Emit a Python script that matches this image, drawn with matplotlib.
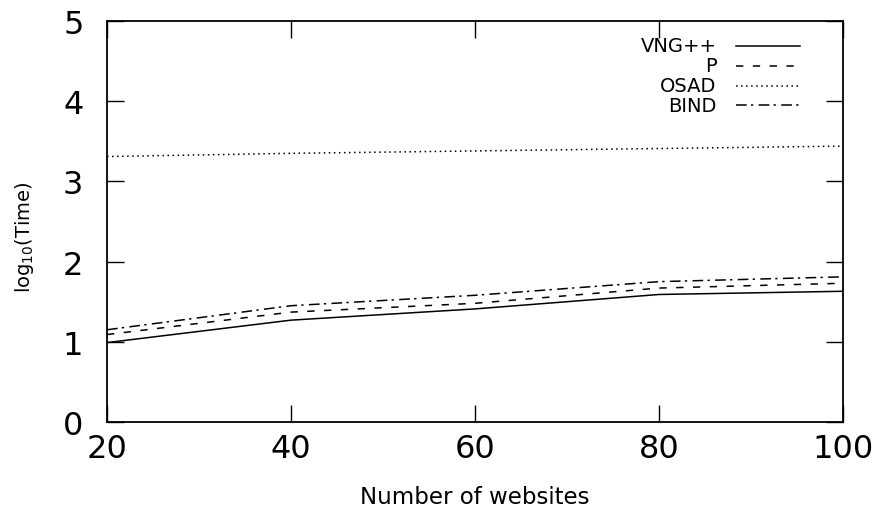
import matplotlib
matplotlib.use("Agg")
import matplotlib.pyplot as plt
from matplotlib.lines import Line2D

websites = [20, 40, 60, 80, 100]
vng = [0.99, 1.27, 1.41, 1.59, 1.63]
p_vals = [1.09, 1.37, 1.48, 1.67, 1.73]
osad = [3.31, 3.35, 3.38, 3.41, 3.44]
bind = [1.15, 1.45, 1.58, 1.75, 1.81]
labels = ["VNG++", "P", "OSAD", "BIND"]

fig = plt.figure(figsize=(8.83, 5.10), dpi=100)
ax = fig.add_axes([107/883, 87/510, 736/883, 401/510])

styles = [
    dict(linestyle="-"),
    dict(linestyle=(0, (4.8, 6.2))),
    dict(linestyle=(0, (1.0, 2.3))),
    dict(linestyle=(0, (7.0, 2.8, 1.5, 3.5))),
]
series = [vng, p_vals, osad, bind]
for vals, st in zip(series, styles):
    ax.plot(websites, vals, color="black", lw=1.1, **st)

ax.set_xlim(20, 100)
ax.set_ylim(0, 5)
ax.set_xticks(websites)
ax.set_yticks([0, 1, 2, 3, 4, 5])
ax.tick_params(direction="in", length=12, width=1.0, top=True, right=True,
               labelsize=23, colors="black")
ax.tick_params(axis="x", pad=8)
ax.tick_params(axis="y", pad=17)
for s in ax.spines.values():
    s.set_linewidth(1.3)

ax.set_xlabel("Number of websites", fontsize=16.5)
ax.xaxis.set_label_coords(0.5, -0.158)
ax.set_ylabel(r"log$_{10}$(Time)", fontsize=14)
ax.yaxis.set_label_coords(-0.097, 0.464)

# legend (gnuplot style: right-aligned text, sample on right)
ys = [0.9384, 0.8885, 0.8387, 0.7905]
for lab, st, y in zip(labels, styles, ys):
    ax.text(0.8284, y, lab, transform=ax.transAxes, ha="right", va="center",
            fontsize=14)
    ax.add_line(Line2D([0.8546, 0.9416], [y, y], transform=ax.transAxes,
                       color="black", lw=1.1, **st))

fig.savefig("out.png", dpi=100)
